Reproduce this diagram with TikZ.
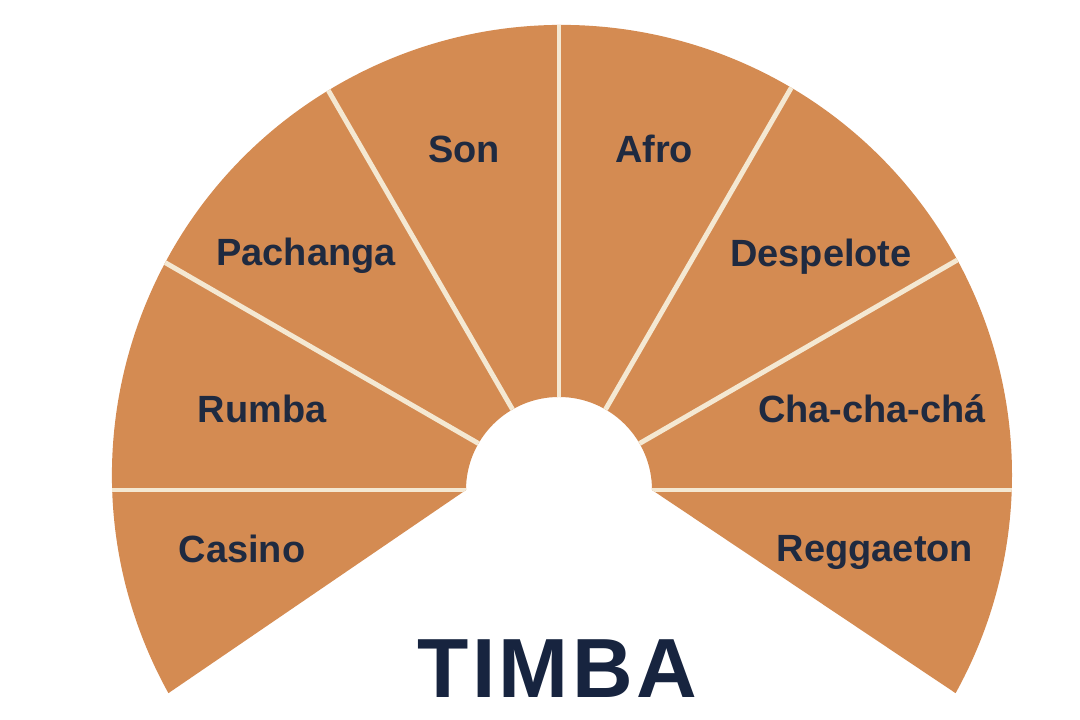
\documentclass[tikz,border=0pt]{standalone}
\usepackage{fontspec}
\setmainfont{Liberation Sans}
\usetikzlibrary{calc}
\definecolor{fanorange}{HTML}{D48B52}
\definecolor{seamcream}{HTML}{F4E8D2}
\definecolor{inknavy}{HTML}{1F2A40}
\definecolor{titlenavy}{HTML}{17243F}
\tikzset{
genre/.style={font=\fontsize{10.8}{13}\selectfont\bfseries, text=inknavy, anchor=base, inner sep=0pt},
seam/.style={draw=seamcream, line width=1.4pt},
}

\begin{document}
\begin{tikzpicture}
    \useasboundingbox (0,0) rectangle (10.8,7.2);
    \coordinate (hole) at (5.59,2.30);
    \coordinate (rim) at (5.62,2.45);
    \begin{scope}
        \path[clip] ($(hole)+(180:0.93)$) -- ($(rim)+(209:4.5)$)
            arc[start angle=209, end angle=-29, radius=4.5]
            -- ($(hole)+(0:0.93)$) arc[start angle=0, end angle=180, radius=0.93] -- cycle;
        \fill[fanorange] (0,0) rectangle (10.8,7.2);
        \foreach \a in {0,30,...,180}
            \draw[seam] (hole) -- ++(\a:6);
    \end{scope}
    \node[genre] (son) at (4.64,5.57) {Son};
    \node[genre] (afro) at (6.54,5.57) {Afro};
    \node[genre] (pachanga) at (3.06,4.54) {Pachanga};
    \node[genre] (despelote) at (8.21,4.53) {Despelote};
    \node[genre] (rumba) at (2.62,2.97) {Rumba};
    \node[genre] (chacha) at (8.72,2.97) {Cha-cha-chá};
    \node[genre] (casino) at (2.42,1.57) {Casino};
    \node[genre] (reggaeton) at (8.75,1.58) {Reggaeton};
    \node[anchor=base, inner sep=0pt, text=titlenavy,
          font=\fontsize{23.9}{28}\selectfont\bfseries\addfontfeatures{LetterSpace=4}] (timba) at (5.57,0.22) {TIMBA};
\end{tikzpicture}
\end{document}
